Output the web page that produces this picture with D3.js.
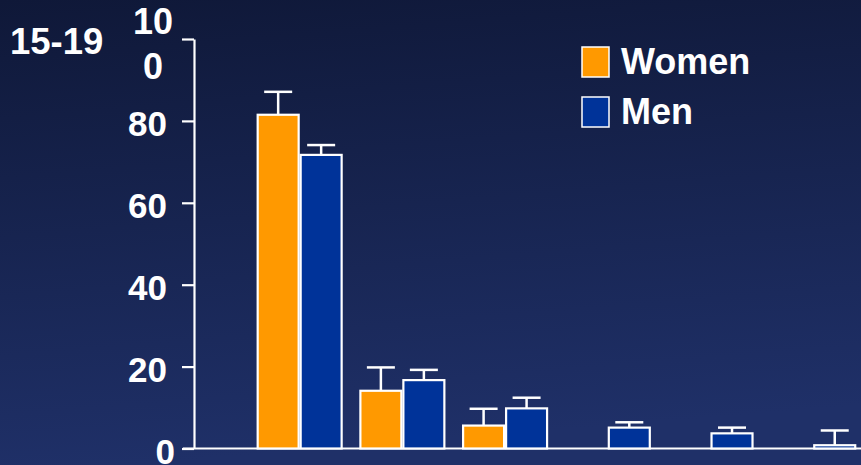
<!DOCTYPE html>
<html>
<head>
<meta charset="utf-8">
<script src="https://cdn.jsdelivr.net/npm/d3@7/dist/d3.min.js"></script>
<style>
  html, body { margin: 0; padding: 0; background: #15214a; }
  svg { display: block; }
  text { font-family: "Liberation Sans", Arial, sans-serif; font-weight: bold; fill: #ffffff; }
</style>
</head>
<body>
<svg id="chart" width="861" height="465"></svg>
<script>
// Age panel title
const panelLabel = "15-19";

// Categories along the x axis and the two series
const categories = ["1", "2", "3", "4", "5", "6"];
const seriesNames = ["Women", "Men"];
const womenValues = [81.5, 14.1, 5.6, null, null, null];
const womenErrors = [87.1, 19.8, 9.7, null, null, null];
const menValues = [71.7, 16.7, 9.8, 5.1, 3.7, 0.8];
const menErrors = [74.1, 19.2, 12.4, 6.4, 5.1, 4.4];

// Y axis ticks
const yTicks = [0, 20, 40, 60, 80, 100];

const colors = { Women: "#ff9900", Men: "#003399" };

const svg = d3.select("#chart");
const W = 861, H = 465;

// Background gradient
const defs = svg.append("defs");
const grad = defs.append("linearGradient")
  .attr("id", "bg").attr("x1", 0).attr("y1", 0).attr("x2", 0.15).attr("y2", 1);
grad.append("stop").attr("offset", "0%").attr("stop-color", "#0f1838");
grad.append("stop").attr("offset", "100%").attr("stop-color", "#1f3068");
svg.append("rect").attr("width", W).attr("height", H).attr("fill", "url(#bg)");

// Scales
const y = d3.scaleLinear().domain([0, 100]).range([448.5, 39]);
const x = d3.scaleBand().domain(categories)
  .range([248.3, 864.6]).paddingInner(0.163).paddingOuter(0.0815);
const xs = d3.scaleBand().domain(seriesNames).range([0, x.bandwidth()]);

const axisX = 194;

// Y axis
const yAxis = d3.axisLeft(y).tickValues(yTicks).tickSize(12).tickSizeOuter(0).tickPadding(15);
const gy = svg.append("g").attr("transform", `translate(${axisX},0)`).call(yAxis);
gy.select(".domain").attr("stroke", "#ffffff").attr("stroke-width", 2.2);
gy.selectAll(".tick line").attr("stroke", "#ffffff").attr("stroke-width", 2.2);
gy.selectAll(".tick text")
  .attr("fill", "#ffffff")
  .style("font-size", "35px")
  .style("font-family", "'Liberation Sans', Arial, sans-serif")
  .style("font-weight", "bold")
  .attr("dy", "15px");

// The top label wraps onto two lines
gy.selectAll(".tick text").filter(d => d === 100).each(function () {
  const t = d3.select(this);
  t.text(null).attr("text-anchor", "middle").attr("x", 153 - axisX).attr("dy", null)
    .style("font-size", "36px");
  t.append("tspan").attr("x", 153 - axisX).attr("y", -5.5).text("10");
  t.append("tspan").attr("x", 153 - axisX).attr("y", 39).text("0");
});
gy.selectAll(".tick text").filter(d => d === 0).attr("x", 175 - axisX);

// Baseline
svg.append("line")
  .attr("x1", 183).attr("x2", W)
  .attr("y1", y(0)).attr("y2", y(0))
  .attr("stroke", "#ffffff").attr("stroke-width", 2.2);

// Bars and error bars
const rows = [];
categories.forEach((c, i) => {
  rows.push({ cat: c, series: "Women", v: womenValues[i], e: womenErrors[i] });
  rows.push({ cat: c, series: "Men", v: menValues[i], e: menErrors[i] });
});
const present = rows.filter(d => d.v != null);

const capW = 28;
const gBars = svg.append("g");
present.forEach(d => {
  const bx = x(d.cat) + xs(d.series);
  const cx = bx + xs.bandwidth() / 2;
  // error bar above the bar
  gBars.append("line")
    .attr("x1", cx).attr("x2", cx)
    .attr("y1", y(d.v)).attr("y2", y(d.e))
    .attr("stroke", "#ffffff").attr("stroke-width", 2.5);
  gBars.append("line")
    .attr("x1", cx - capW / 2).attr("x2", cx + capW / 2)
    .attr("y1", y(d.e)).attr("y2", y(d.e))
    .attr("stroke", "#ffffff").attr("stroke-width", 2.5);
});
present.forEach(d => {
  const bx = x(d.cat) + xs(d.series);
  gBars.append("rect")
    .attr("x", bx + 1).attr("y", y(d.v))
    .attr("width", xs.bandwidth() - 2)
    .attr("height", Math.max(0, y(0) - y(d.v)))
    .attr("fill", colors[d.series])
    .attr("stroke", "#ffffff").attr("stroke-width", 2.2);
});

// Panel title
svg.append("text").attr("x", 10).attr("y", 54)
  .style("font-size", "36.5px").text(panelLabel);

// Legend
const legend = svg.append("g");
seriesNames.forEach((s, i) => {
  const ly = 47 + i * 50;
  legend.append("rect")
    .attr("x", 582).attr("y", ly)
    .attr("width", 27).attr("height", 30)
    .attr("fill", colors[s]).attr("stroke", "#ffffff").attr("stroke-width", 1.5);
  legend.append("text")
    .attr("x", 621).attr("y", ly + 26.5)
    .style("font-size", "36px").text(s);
});
</script>
</body>
</html>
